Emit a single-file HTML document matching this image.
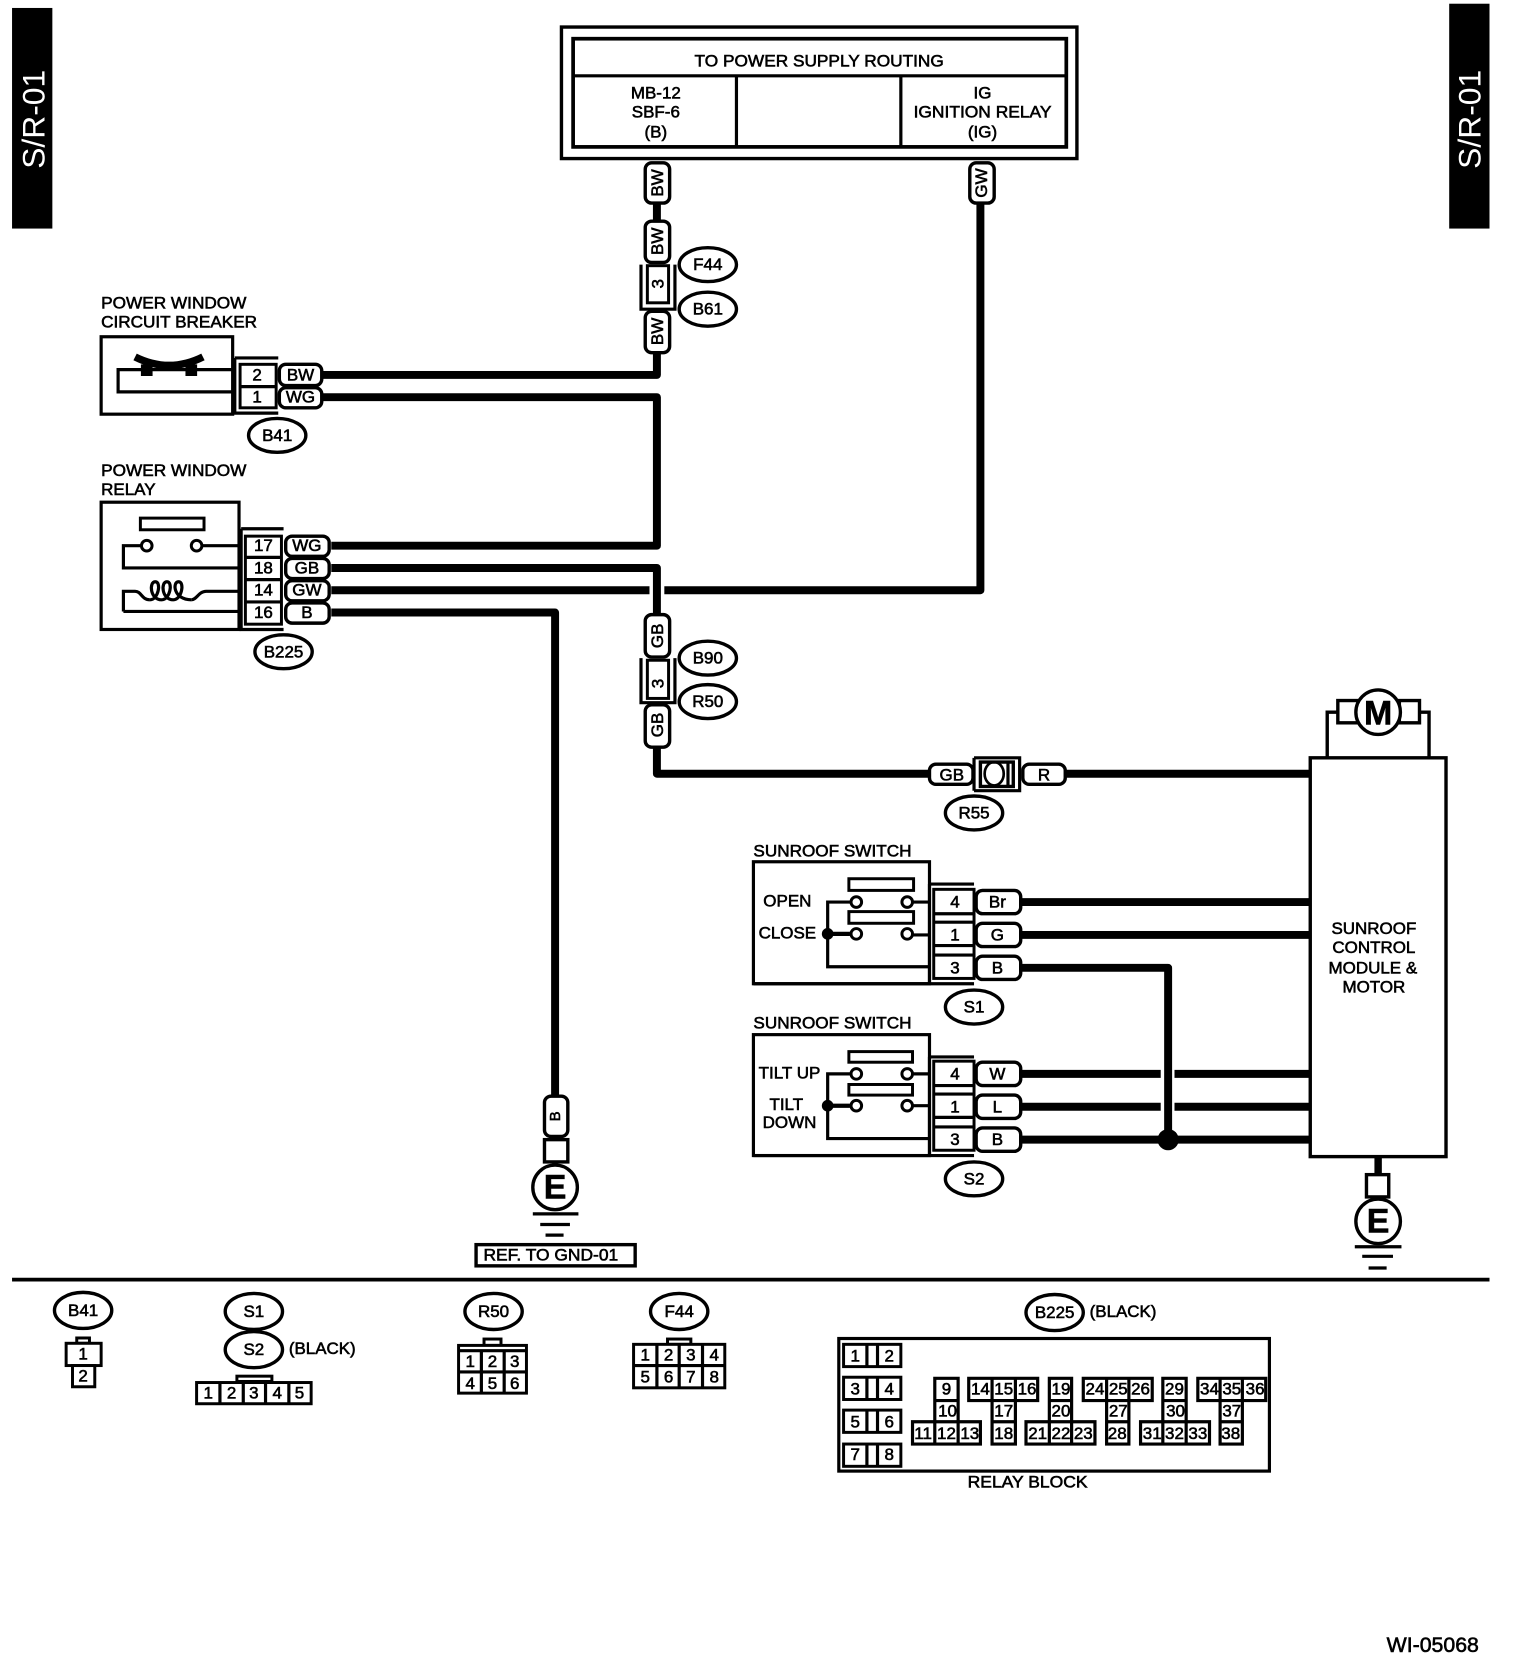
<!DOCTYPE html>
<html><head><meta charset="utf-8"><title>S/R-01</title>
<style>
html,body{margin:0;padding:0;background:#fff}
svg{display:block}
text{font-family:"Liberation Sans",sans-serif;font-size:16px;fill:#000;stroke:#000;stroke-width:.55px;text-anchor:middle;dominant-baseline:central}
.l{text-anchor:start}
.w{fill:none;stroke:#000;stroke-width:7.500;stroke-linejoin:round}
.s{fill:none;stroke:#000;stroke-width:3}
.f{fill:#fff;stroke:#000;stroke-width:3.200}
.c{fill:#fff;stroke:#000;stroke-width:2.800}
</style></head><body>
<svg xmlns="http://www.w3.org/2000/svg" width="1520" height="1662" viewBox="0.7 0.5 1433 1567">
<rect x="0" y="0" width="1440" height="1570" fill="#fff"/>
<!-- tabs -->
<rect x="12" y="8" width="38" height="208" fill="#000"/>
<rect x="1367" y="4" width="38" height="212" fill="#000"/>
<text transform="rotate(-90 32 113)" x="32" y="113" style="fill:#fff;stroke:none;font-size:30px">S/R-01</text>
<text transform="rotate(-90 1386 113)" x="1386" y="113" style="fill:#fff;stroke:none;font-size:30px">S/R-01</text>
<!-- supply box -->
<rect x="530" y="26" width="486" height="124" class="f"/>
<rect x="541" y="37" width="465" height="102" class="f" style="stroke-width:3.500"/>
<path d="M541 72H1006M695 72V139M850 72V139" class="s"/>
<text x="773" y="58" textLength="235" lengthAdjust="spacingAndGlyphs">TO POWER SUPPLY ROUTING</text>
<text x="619" y="88">MB-12</text><text x="619" y="106">SBF-6</text><text x="619" y="125">(B)</text>
<text x="927" y="88">IG</text><text x="927" y="106" textLength="130" lengthAdjust="spacingAndGlyphs">IGNITION RELAY</text><text x="927" y="125">(IG)</text>
<!-- wires -->
<path class="w" d="M620 190V210"/>
<path class="w" d="M620 332V354H305"/>
<path class="w" d="M305 375H620V515H313"/>
<path class="w" d="M313 536H620V582"/>
<path class="w" d="M313 557H613M627 557H925V190"/>
<path class="w" d="M313 578H524V1036"/>
<path class="w" d="M620 703V730H880"/>
<path class="w" d="M1002 730H1236"/>
<path class="w" d="M960 851H1236M960 882H1236"/>
<path class="w" d="M960 913H1102V1075"/>
<path class="w" d="M960 1013H1095M1108 1013H1236M960 1044H1095M1108 1044H1236M960 1075H1236"/>
<circle cx="1102" cy="1075" r="10" fill="#000"/>
<!-- vertical pills -->
<rect x="609" y="154" width="23" height="38" rx="6" class="f"/>
<rect x="609" y="209" width="23" height="39" rx="6" class="f"/>
<rect x="609" y="294" width="23" height="39" rx="6" class="f"/>
<rect x="915" y="154" width="23" height="38" rx="6" class="f"/>
<rect x="609" y="580" width="23" height="40" rx="6" class="f"/>
<rect x="609" y="665" width="23" height="40" rx="6" class="f"/>
<rect x="514" y="1034" width="22" height="38" rx="6" class="f"/>
<text transform="rotate(-90 620.5 173)" x="620.5" y="173">BW</text>
<text transform="rotate(-90 620.5 228)" x="620.5" y="228">BW</text>
<text transform="rotate(-90 620.5 313)" x="620.5" y="313">BW</text>
<text transform="rotate(-90 926 173)" x="926" y="173">GW</text>
<text transform="rotate(-90 620.5 600)" x="620.5" y="600">GB</text>
<text transform="rotate(-90 620.5 684)" x="620.5" y="684">GB</text>
<text transform="rotate(-90 525 1053)" x="525" y="1053" style="font-size:14px">B</text>
<!-- inline connectors 3 -->
<path class="s" d="M605 250V292H637V250"/>
<rect x="611" y="251" width="20" height="35" class="c"/>
<text transform="rotate(-90 621 268)" x="621" y="268">3</text>
<path class="s" d="M605 621V663H637V621"/>
<rect x="611" y="623" width="20" height="36" class="c"/>
<text transform="rotate(-90 621 645)" x="621" y="645">3</text>
<!-- ellipses -->
<g style="fill:#fff;stroke:#000;stroke-width:3.200">
<ellipse cx="668" cy="250" rx="27" ry="16"/><ellipse cx="668" cy="292" rx="27" ry="16"/>
<ellipse cx="262" cy="411" rx="27" ry="16"/><ellipse cx="268" cy="615" rx="27" ry="16"/>
<ellipse cx="668" cy="621" rx="27" ry="16"/><ellipse cx="668" cy="662" rx="27" ry="16"/>
<ellipse cx="919" cy="767" rx="27" ry="16"/><ellipse cx="919" cy="950" rx="27" ry="16"/><ellipse cx="919" cy="1112" rx="27" ry="16"/>
<ellipse cx="79" cy="1236" rx="27" ry="17"/><ellipse cx="240" cy="1237" rx="27" ry="17"/><ellipse cx="240" cy="1273" rx="27" ry="17"/>
<ellipse cx="466" cy="1237" rx="27" ry="17"/><ellipse cx="641" cy="1237" rx="27" ry="17"/><ellipse cx="995" cy="1238" rx="27" ry="17"/>
</g>
<text x="668" y="250">F44</text><text x="668" y="292">B61</text><text x="262" y="411">B41</text><text x="268" y="615">B225</text>
<text x="668" y="621">B90</text><text x="668" y="662">R50</text><text x="919" y="767">R55</text><text x="919" y="950">S1</text><text x="919" y="1112">S2</text>
<text x="79" y="1236">B41</text><text x="240" y="1237">S1</text><text x="240" y="1273">S2</text><text x="466" y="1237">R50</text><text x="641" y="1237">F44</text><text x="995" y="1238">B225</text>
<text x="304.500" y="1272" textLength="63" lengthAdjust="spacingAndGlyphs">(BLACK)</text>
<text x="1059.500" y="1237" textLength="63" lengthAdjust="spacingAndGlyphs">(BLACK)</text>
<!-- circuit breaker -->
<text class="l" x="96" y="286" textLength="137" lengthAdjust="spacingAndGlyphs">POWER WINDOW</text>
<text class="l" x="96" y="304" textLength="147" lengthAdjust="spacingAndGlyphs">CIRCUIT BREAKER</text>
<rect x="96" y="318" width="124" height="73" class="s"/>
<path class="s" d="M220 349H112V370H220"/>
<path d="M128 337Q160 353 192 337" fill="none" stroke="#000" stroke-width="7"/>
<path d="M139 344V355M181 344V355" stroke="#000" stroke-width="11"/>
<path class="s" d="M222 338H263M222 338V390H263"/>
<rect x="227" y="344" width="34" height="41" class="c"/><path class="s" d="M227 365H261"/>
<text x="243" y="354">2</text><text x="243" y="375">1</text>
<rect x="264" y="344" width="40" height="20" rx="6" class="f"/><rect x="264" y="366" width="40" height="19" rx="6" class="f"/>
<text x="284" y="354">BW</text><text x="284" y="375">WG</text>
<!-- relay -->
<text class="l" x="96" y="444" textLength="137" lengthAdjust="spacingAndGlyphs">POWER WINDOW</text>
<text class="l" x="96" y="462">RELAY</text>
<rect x="96" y="474" width="130" height="120" class="s"/>
<rect x="133" y="489" width="60" height="11" class="c"/>
<path class="s" d="M226 515H191M134 515H117V536H226"/>
<circle cx="139" cy="515" r="5" class="c"/><circle cx="186" cy="515" r="5" class="c"/>
<path class="s" d="M117 577V558H128C134 558 134 566 142 566M181 566C186 566 188 558 195 558H226M117 577H226"/>
<path d="M142 566C150 566 153 549 147 549C141 549 142 566 153 566C161 566 164 549 158 549C152 549 153 566 164 566C172 566 175 549 169 549C163 549 164 566 181 566" fill="none" stroke="#000" stroke-width="3"/>
<path class="s" d="M228 499H268M228 499V594H268"/>
<rect x="232" y="506" width="34" height="83" class="c"/><path class="s" d="M232 526H266M232 547H266M232 568H266"/>
<text x="249" y="515">17</text><text x="249" y="536">18</text><text x="249" y="557">14</text><text x="249" y="578">16</text>
<rect x="270" y="506" width="41" height="19" rx="6" class="f"/><rect x="270" y="527" width="41" height="19" rx="6" class="f"/><rect x="270" y="548" width="41" height="19" rx="6" class="f"/><rect x="270" y="569" width="41" height="19" rx="6" class="f"/>
<text x="290" y="515">WG</text><text x="290" y="536">GB</text><text x="290" y="557">GW</text><text x="290" y="578">B</text>
<!-- ground left -->
<rect x="514" y="1075" width="22" height="21" class="f"/>
<circle cx="524" cy="1120" r="21" class="f"/>
<text x="524" y="1120" style="font-size:32px;font-weight:bold">E</text>
<path d="M503 1145H546M510 1155H538M515 1165H532" stroke="#000" stroke-width="3"/>
<rect x="449.500" y="1174" width="150" height="20" class="f"/>
<text x="520" y="1184" textLength="127" lengthAdjust="spacingAndGlyphs">REF. TO GND-01</text>
<!-- R55 -->
<rect x="877" y="721" width="41" height="19" rx="6" class="f"/>
<rect x="965" y="721" width="40" height="19" rx="6" class="f"/>
<text x="898" y="731">GB</text><text x="985" y="731">R</text>
<path class="s" d="M919 715H962V746H919M919 715V746"/>
<rect x="925" y="719" width="31" height="23" class="f"/>
<ellipse cx="938" cy="730" rx="9" ry="11" fill="none" stroke="#000" stroke-width="2.500"/>
<path d="M951 720V741" stroke="#000" stroke-width="3"/>
<!-- module -->
<rect x="1236" y="715" width="128" height="376" class="f"/>
<text x="1296" y="876">SUNROOF</text><text x="1296" y="894">CONTROL</text><text x="1295" y="913">MODULE &amp;</text><text x="1296" y="931">MOTOR</text>
<path class="f" style="fill:none" d="M1252 714V672H1262M1348 714V672H1338"/>
<rect x="1262" y="661" width="19" height="21" class="f"/><rect x="1320" y="661" width="19" height="21" class="f"/>
<circle cx="1300" cy="672" r="21" class="f"/>
<text x="1300" y="673" style="font-size:32px;font-weight:bold">M</text>
<path d="M1300 1091V1108" stroke="#000" stroke-width="7"/>
<rect x="1289" y="1108" width="21" height="21" class="f"/>
<circle cx="1300" cy="1152" r="21" class="f"/>
<text x="1300" y="1152" style="font-size:32px;font-weight:bold">E</text>
<path d="M1278 1176H1322M1285 1185H1314M1291 1196H1308" stroke="#000" stroke-width="3"/>
<!-- divider -->
<path d="M12 1207H1405" stroke="#000" stroke-width="3.500"/>
<!-- S1 -->
<text class="l" x="711" y="803" textLength="149" lengthAdjust="spacingAndGlyphs">SUNROOF SWITCH</text>
<rect x="711" y="813" width="166" height="115" class="s"/>
<rect x="801" y="829" width="61" height="11" class="c"/><rect x="801" y="860" width="61" height="11" class="c"/>
<path class="s" d="M802 851H781V912H877M861 851H877M861 882H877"/>
<path d="M781 881H802" stroke="#000" stroke-width="4"/><circle cx="781" cy="881" r="5.500" fill="#000"/>
<circle cx="808" cy="851" r="5" class="c"/><circle cx="856" cy="851" r="5" class="c"/><circle cx="808" cy="881" r="5" class="c"/><circle cx="856" cy="881" r="5" class="c"/>
<text x="743" y="850">OPEN</text><text x="743" y="880">CLOSE</text>
<path class="s" d="M877 834H919M877 834V928M711 928H919"/>
<rect x="881" y="839" width="38" height="84" class="c"/><path class="s" d="M881 862H919M881 870H919M881 892H919M881 901H919"/>
<text x="901" y="851">4</text><text x="901" y="882">1</text><text x="901" y="913">3</text>
<rect x="921" y="840" width="42" height="22" rx="6" class="f"/><rect x="921" y="871" width="42" height="22" rx="6" class="f"/><rect x="921" y="902" width="42" height="22" rx="6" class="f"/>
<text x="941" y="851">Br</text><text x="941" y="882">G</text><text x="941" y="913">B</text>
<!-- S2 -->
<text class="l" x="711" y="965" textLength="149" lengthAdjust="spacingAndGlyphs">SUNROOF SWITCH</text>
<rect x="711" y="976" width="166" height="114" class="s"/>
<rect x="801" y="992" width="60" height="10" class="c"/><rect x="801" y="1023" width="60" height="10" class="c"/>
<path class="s" d="M802 1013H781V1074H877M861 1013H877M861 1043H877"/>
<path d="M781 1043H802" stroke="#000" stroke-width="4"/><circle cx="781" cy="1043" r="5.500" fill="#000"/>
<circle cx="808" cy="1013" r="5" class="c"/><circle cx="856" cy="1013" r="5" class="c"/><circle cx="808" cy="1043" r="5" class="c"/><circle cx="856" cy="1043" r="5" class="c"/>
<text x="745" y="1012">TILT UP</text><text x="742" y="1042">TILT</text><text x="745" y="1059">DOWN</text>
<path class="s" d="M877 997H919M877 997V1090M711 1090H919"/>
<rect x="881" y="1001" width="38" height="84" class="c"/><path class="s" d="M881 1024H919M881 1032H919M881 1054H919M881 1063H919"/>
<text x="901" y="1013">4</text><text x="901" y="1044">1</text><text x="901" y="1075">3</text>
<rect x="921" y="1002" width="42" height="22" rx="6" class="f"/><rect x="921" y="1033" width="42" height="22" rx="6" class="f"/><rect x="921" y="1064" width="42" height="22" rx="6" class="f"/>
<text x="941" y="1013">W</text><text x="941" y="1044">L</text><text x="941" y="1075">B</text>
<!-- bottom connectors -->
<rect x="73" y="1262" width="12" height="5" class="c"/><rect x="63" y="1267" width="33" height="21" class="c"/><rect x="69" y="1288" width="21" height="20" class="c"/>
<text x="79" y="1277">1</text><text x="79" y="1298">2</text>
<rect x="224" y="1298" width="33" height="5" class="c"/><rect x="186" y="1304" width="108" height="20" class="c"/>
<path class="s" d="M208 1304V1324M230 1304V1324M251 1304V1324M273 1304V1324"/>
<text x="197" y="1314">1</text><text x="219" y="1314">2</text><text x="240" y="1314">3</text><text x="262" y="1314">4</text><text x="283" y="1314">5</text>
<rect x="457" y="1263" width="16" height="6" class="c"/><rect x="433" y="1269" width="64" height="45" class="c"/>
<path class="s" d="M433 1274H497M433 1294H497M454.500 1274V1314M476 1274V1314"/>
<text x="444" y="1284">1</text><text x="465" y="1284">2</text><text x="486" y="1284">3</text><text x="444" y="1305">4</text><text x="465" y="1305">5</text><text x="486" y="1305">6</text>
<rect x="630" y="1263" width="22" height="5" class="c"/><rect x="598" y="1268" width="86" height="41" class="c"/>
<path class="s" d="M598 1288H684M620 1268V1309M641 1268V1309M663 1268V1309"/>
<text x="609" y="1278">1</text><text x="631" y="1278">2</text><text x="652" y="1278">3</text><text x="674" y="1278">4</text>
<text x="609" y="1299">5</text><text x="631" y="1299">6</text><text x="652" y="1299">7</text><text x="674" y="1299">8</text>
<!-- relay block -->
<rect x="791.500" y="1262.500" width="406" height="125" class="s"/>
<rect x="796" y="1268" width="54" height="21" class="c"/><rect x="796" y="1299" width="54" height="21" class="c"/><rect x="796" y="1330" width="54" height="21" class="c"/><rect x="796" y="1362" width="54" height="21" class="c"/>
<path class="s" d="M818 1268V1289M828 1268V1289M818 1299V1320M828 1299V1320M818 1330V1351M828 1330V1351M818 1362V1383M828 1362V1383"/>
<text x="807" y="1279">1</text><text x="839" y="1279">2</text><text x="807" y="1310">3</text><text x="839" y="1310">4</text><text x="807" y="1341">5</text><text x="839" y="1341">6</text><text x="807" y="1372">7</text><text x="839" y="1372">8</text>
<!-- group outlines -->
<path class="s" d="M882 1300H904V1362H882ZM882 1321H904M861 1341H925V1362H861ZM882 1341V1362M904 1341V1362"/>
<path class="s" d="M914 1300H979V1321H914ZM936 1300V1362H958V1300M936 1341H958"/>
<path class="s" d="M990 1300H1011V1362H990ZM990 1321H1011M968 1341H1033V1362H968ZM990 1341V1362M1011 1341V1362"/>
<path class="s" d="M1022 1300H1087V1321H1022ZM1044 1300V1362H1065V1300M1044 1341H1065"/>
<path class="s" d="M1097 1300H1119V1362H1097ZM1097 1321H1119M1076 1341H1141V1362H1076ZM1097 1341V1362M1119 1341V1362"/>
<path class="s" d="M1130 1300H1194V1321H1130ZM1151 1300V1362H1172V1300M1151 1341H1172"/>
<text x="893" y="1310">9</text><text x="894" y="1331">10</text><text x="871" y="1352">11</text><text x="893" y="1352">12</text><text x="915" y="1352">13</text>
<text x="925" y="1310">14</text><text x="947" y="1310">15</text><text x="969" y="1310">16</text><text x="947" y="1331">17</text><text x="947" y="1352">18</text>
<text x="1001" y="1310">19</text><text x="1001" y="1331">20</text><text x="979" y="1352">21</text><text x="1001" y="1352">22</text><text x="1022" y="1352">23</text>
<text x="1033" y="1310">24</text><text x="1055" y="1310">25</text><text x="1076" y="1310">26</text><text x="1055" y="1331">27</text><text x="1054" y="1352">28</text>
<text x="1108" y="1310">29</text><text x="1109" y="1331">30</text><text x="1087" y="1352">31</text><text x="1108" y="1352">32</text><text x="1130" y="1352">33</text>
<text x="1141" y="1310">34</text><text x="1162" y="1310">35</text><text x="1184" y="1310">36</text><text x="1162" y="1331">37</text><text x="1161" y="1352">38</text>
<text x="969.500" y="1398" textLength="113" lengthAdjust="spacingAndGlyphs">RELAY BLOCK</text>
<text x="1351.500" y="1552" textLength="87" lengthAdjust="spacingAndGlyphs" style="font-size:20px">WI-05068</text>
</svg>
</body></html>
